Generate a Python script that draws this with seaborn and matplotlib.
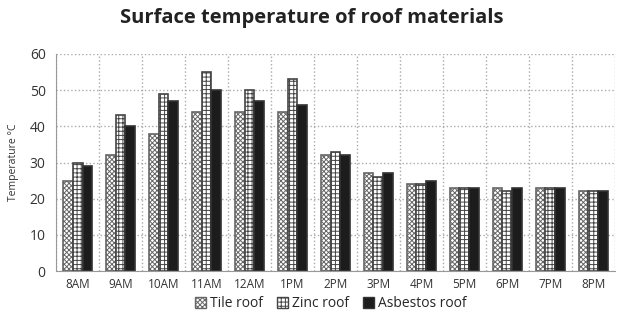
import numpy as np
import pandas as pd
import seaborn as sns
import matplotlib.pyplot as plt
from matplotlib.ticker import FixedLocator
from matplotlib.patches import Patch

times = ['8AM', '9AM', '10AM', '11AM', '12AM', '1PM', '2PM', '3PM', '4PM', '5PM', '6PM', '7PM', '8PM']
tile = [25, 32, 38, 44, 44, 44, 32, 27, 24, 23, 23, 23, 22]
zinc = [30, 43, 49, 55, 50, 53, 33, 26, 24, 23, 22, 23, 22]
asbestos = [29, 40, 47, 50, 47, 46, 32, 27, 25, 23, 23, 23, 22]
roofs = ['Tile roof', 'Zinc roof', 'Asbestos roof']

df = pd.DataFrame({'time': times * 3,
                   'temp': tile + zinc + asbestos,
                   'roof': [r for r in roofs for _ in times]})

sns.set_style('white')
plt.rcParams['font.family'] = ['Open Sans', 'DejaVu Sans']
plt.rcParams['hatch.linewidth'] = 0.7

fig = plt.figure(figsize=(6.24, 3.25), dpi=100)
ax = fig.add_axes([0.09, 0.166, 0.895, 0.668])

sns.barplot(data=df, x='time', y='temp', hue='roof', hue_order=roofs,
            order=times, width=0.68, gap=0, ax=ax, legend=False)

# fill, edge, hatch per roof type
styles = {'Tile roof': ('white', '#666666', 'xxxxxxx'),
          'Zinc roof': ('white', '#444444', '++++'),
          'Asbestos roof': ('#1c1c1c', '#333333', '')}
n = len(times)
for i, p in enumerate(ax.patches[:3 * n]):
    fc, ec, h = styles[roofs[i // n]]
    p.set_facecolor(fc)
    p.set_edgecolor(ec)
    p.set_hatch(h)
    p.set_linewidth(1.2)

ax.set_ylim(0, 60)
ax.set_xlim(-0.5, n - 0.5)
ax.set_yticks(range(0, 61, 10))
ax.xaxis.set_minor_locator(FixedLocator(np.arange(-0.5, n, 1)))
ax.grid(axis='y', which='major', color='#aaaaaa', linestyle=':', linewidth=1)
ax.grid(axis='x', which='minor', color='#aaaaaa', linestyle=':', linewidth=1)
ax.set_axisbelow(True)
for s in ['top', 'right']:
    ax.spines[s].set_visible(False)
ax.spines['left'].set_color('#999999')
ax.spines['bottom'].set_color('#999999')
ax.tick_params(axis='y', which='major', length=4, color='#999999', labelsize=10, labelcolor='#333333')
ax.tick_params(axis='x', which='major', length=0, labelsize=8.5, labelcolor='#333333', pad=5)
ax.tick_params(axis='x', which='minor', length=4, color='#999999')
ax.set_xlabel('')
ax.set_ylabel('Temperature °C', fontsize=7.5, color='#333333', labelpad=8)

fig.suptitle('Surface temperature of roof materials', fontsize=14.5, fontweight='bold',
             color='#222222', y=0.975)

handles = [Patch(facecolor=styles[r][0], edgecolor=styles[r][1], hatch=styles[r][2], label=r)
           for r in roofs]
fig.legend(handles=handles, loc='center', bbox_to_anchor=(0.53, 0.065), ncol=3,
           frameon=False, fontsize=10, handlelength=0.8, handleheight=0.8,
           handletextpad=0.3, columnspacing=1.0)

fig.savefig('out.png', dpi=100)
